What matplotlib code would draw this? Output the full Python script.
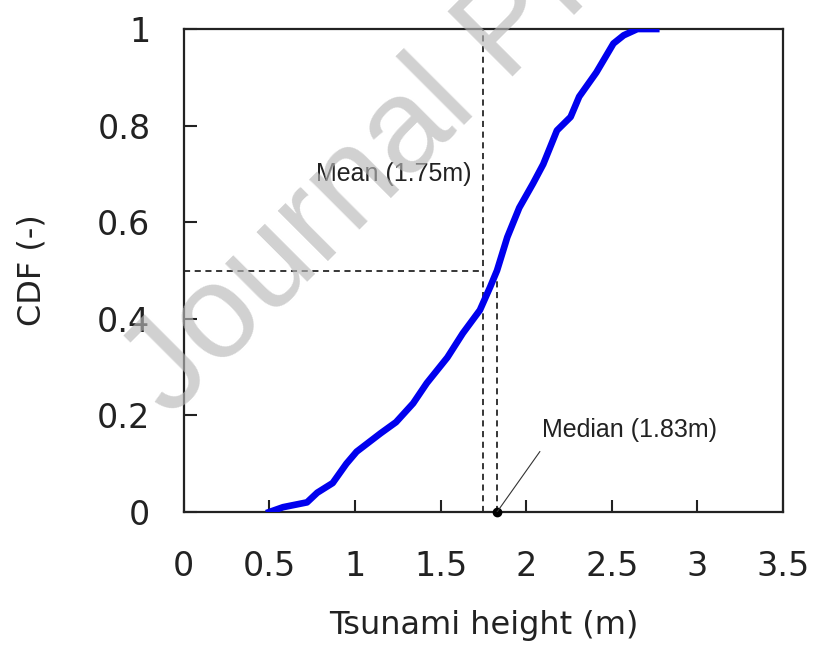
import numpy as np
import matplotlib
matplotlib.use('Agg')
import matplotlib.pyplot as plt

height = [0.50, 0.58, 0.72, 0.78, 0.87, 0.95, 1.01, 1.15, 1.24, 1.34, 1.42,
          1.54, 1.63, 1.73, 1.79, 1.83, 1.89, 1.96, 2.04, 2.10, 2.18, 2.26,
          2.31, 2.41, 2.51, 2.57, 2.65, 2.76]
cdf = [0.0, 0.01, 0.02, 0.04, 0.06, 0.10, 0.125, 0.163, 0.186, 0.225, 0.267,
       0.32, 0.37, 0.418, 0.466, 0.50, 0.569, 0.63, 0.68, 0.72, 0.79, 0.818,
       0.86, 0.91, 0.97, 0.987, 1.0, 1.0]

mean_h = 1.75
median_h = 1.83
xticks = [0, 0.5, 1, 1.5, 2, 2.5, 3, 3.5]
xticklabels = ['0', '0.5', '1', '1.5', '2', '2.5', '3', '3.5']
yticks = [0, 0.2, 0.4, 0.6, 0.8, 1]
yticklabels = ['0', '0.2', '0.4', '0.6', '0.8', '1']

ink = '#222222'
fig = plt.figure(figsize=(8.13, 6.52), dpi=100)
ax = fig.add_axes([0.226, 0.2147, 0.737, 0.7408])

ax.plot(height, cdf, color='#0000ee', lw=4.8, zorder=3)

# mean / median guide lines
dash = dict(color='k', lw=1.1, ls='--', dashes=(4, 3), zorder=2)
ax.plot([mean_h, mean_h], [0, 1], **dash)
ax.plot([median_h, median_h], [0, 0.5], **dash)
ax.plot([0, mean_h], [0.5, 0.5], **dash)
ax.plot([median_h], [0], 'o', color='k', ms=6, zorder=4, clip_on=False)
ax.plot([median_h, 2.08], [0, 0.125], color='#333333', lw=0.8, zorder=4)

ax.text(1.68, 0.70, 'Mean (1.75m)', ha='right', va='center',
        fontsize=18, family='Liberation Sans', color=ink)
ax.text(2.09, 0.17, 'Median (1.83m)', ha='left', va='center',
        fontsize=18, family='Liberation Sans', color=ink)

ax.set_xlim(0, 3.5)
ax.set_ylim(0, 1)
ax.set_xticks(xticks)
ax.set_xticklabels(xticklabels)
ax.set_yticks(yticks)
ax.set_yticklabels(yticklabels)
ax.tick_params(direction='in', length=9, width=1.5, labelsize=24,
               colors=ink)
ax.tick_params(axis='x', pad=27)
ax.tick_params(axis='y', pad=24)
for s in ax.spines.values():
    s.set_linewidth(1.6)
    s.set_color(ink)

ax.set_xlabel('Tsunami height (m)', fontsize=23, labelpad=20, color=ink)
ax.set_ylabel('CDF (-)', fontsize=23, labelpad=36, color=ink)

# watermark
fig.text(170 / 813, 1 - 419 / 652, 'Journal Pre-proof', rotation=45,
         rotation_mode='anchor', ha='left', va='baseline', fontsize=96,
         color='#b8b8b8', alpha=0.65, zorder=10, family='Liberation Sans')

fig.savefig('out.png', dpi=100)
